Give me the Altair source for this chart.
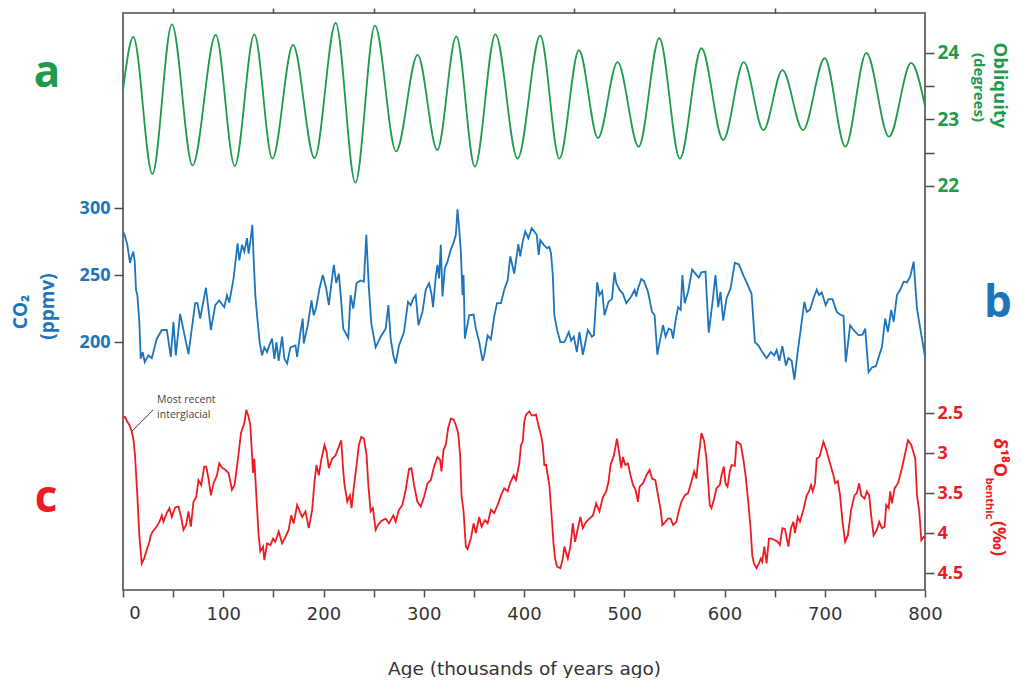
import altair as alt
import pandas as pd

# ---------------- data ----------------
OBL_AGE = [0, 10.3, 29.3, 48.8, 69.4, 92.5, 111.5, 131, 149, 169.6, 191, 212.2, 231.8,
           251.3, 272.4, 293.9, 313.5, 332.5, 351, 371.5, 393.6, 416.2, 435.3, 454.8,
           473.8, 493.3, 514.4, 535, 555.5, 577, 598.7, 619.2, 638.8, 657.8, 678.3, 700,
           720.5, 741.5, 764.1, 786.2, 800]
OBL_DEG = [23.44, 24.24, 22.18, 24.43, 22.31, 24.27, 22.30, 24.28, 22.41, 24.12, 22.42,
           24.45, 22.05, 24.41, 22.52, 23.97, 22.54, 24.25, 22.29, 24.28, 22.41, 24.26,
           22.41, 24.04, 22.72, 23.86, 22.59, 24.22, 22.41, 24.07, 22.69, 23.86, 22.84,
           23.74, 22.84, 23.92, 22.59, 24.00, 22.74, 23.85, 23.2]

CO2_AGE = [0, 2, 4.3, 7, 8.7, 10.3, 11.7, 13, 14.3, 16.3, 17.7, 19.7, 21.7, 25.3, 28.7,
           33.7, 38.7, 43.7, 47.7, 50.3, 52.7, 57, 65.3, 72, 74.3, 77, 82.7, 87.7, 92, 96,
           101, 103.7, 106, 110.3, 114.3, 116, 118.7, 121, 123.7, 125.3, 127, 129, 130.3,
           132, 133.7, 136.3, 138.7, 141, 143.7, 146, 148.7, 151, 153, 155.3, 158.7, 161,
           163.7, 167, 172, 173.7, 177, 179.3, 180.3, 184.3, 188, 190.3, 192.7, 196, 199.3,
           202.7, 205.3, 207.7, 210.3, 212.7, 215.3, 217.7, 219.7, 224.7, 227, 229.7, 233,
           237, 240.3, 242.7, 245.3, 247.7, 252, 257, 262, 264.7, 267, 269.7, 272, 275.3,
           280.3, 284.3, 287, 289.7, 292, 294.7, 298.7, 302, 305.3, 307.7, 309.3, 312,
           313.7, 315.3, 317, 318.7, 321, 323.7, 327, 329.7, 332, 333.7, 335.3, 337, 338.7,
           339.7, 341, 345.3, 349.7, 352, 355.3, 358.7, 360.3, 363.7, 367, 370.3, 373, 377,
           380.3, 383.7, 386.3, 390.3, 394.3, 396.3, 398.7, 401.3, 404.3, 407.7, 410.3,
           412.7, 414.7, 416.3, 419.7, 423, 425.3, 427, 428.7, 430.3, 433, 436.3, 440.3,
           444.7, 447, 449.7, 452.7, 455.3, 458.7, 463.7, 467.7, 469.7, 473, 475.3, 478,
           480.3, 484.3, 487.7, 490.3, 492, 495.3, 498.7, 502, 507, 510.3, 512, 513.7, 517,
           519.7, 523.7, 527.7, 530.3, 533, 535.3, 538.7, 541.3, 544.3, 547, 548.7, 551,
           553.7, 556.3, 558, 560.3, 563.7, 567.7, 571, 574.3, 577, 581, 584.3, 587.7, 591,
           593.7, 596, 598.7, 602, 606, 610.3, 614.3, 618.7, 622, 627, 630.3, 633.7, 637.7,
           642, 646.3, 649.7, 652, 654.7, 657.7, 661.3, 663.7, 667, 669.7, 673, 677, 679.7,
           682, 685.3, 688.7, 692, 694.3, 697, 701, 703.7, 707.7, 712, 715.3, 718.7, 721,
           725.3, 728.7, 733.7, 737.7, 740.3, 743.7, 747, 751, 754.3, 757, 760.3, 763,
           766.3, 768.7, 772, 775.3, 778.7, 782, 785.3, 788.7, 792, 795.3, 797, 800]
CO2_PPMV = [282.5, 279, 272.5, 259, 264, 267.5, 260, 239, 235, 215, 187.5, 192.5, 185, 190,
            188, 202.5, 209, 209, 189, 215, 190, 221, 191, 229, 229, 217.5, 240.5, 209,
            227.5, 231, 226, 235, 229.5, 247.5, 273.7, 261, 272.5, 267.5, 277.5, 266, 275,
            287.5, 262.5, 235, 220, 200, 190, 196, 192.5, 197.5, 202.5, 187.5, 200, 186, 204,
            187.5, 184, 196, 197.5, 189, 207.5, 217.5, 199, 212.5, 231, 220, 226, 240, 250,
            240, 227.5, 242.5, 257.5, 244, 251, 230, 210, 203, 235, 225, 244, 246, 245, 280,
            240, 213.7, 196, 204, 210, 227.5, 202.5, 190, 184, 197.5, 207.5, 230, 227.5,
            232.5, 235, 212.5, 222.5, 239, 244, 236, 226, 249, 257.5, 247.5, 272.5, 234, 255,
            260, 269, 274, 280, 299, 285, 267.5, 235, 250, 202.5, 220, 220.5, 210, 200, 186,
            190, 205, 202, 219, 229, 229, 239, 246, 264, 251, 273, 264, 275, 282.5, 277.5,
            285, 282.5, 280, 265, 276, 272.5, 270, 271, 266, 250, 220, 209, 200, 200, 207.5,
            201, 204, 192.5, 207.5, 190.5, 209, 204, 205, 244.5, 235, 238, 220, 230, 232,
            252, 244, 239, 236, 229, 234, 239, 234, 240, 247, 245.5, 237.5, 222.5, 220,
            190.5, 200, 212.5, 204, 210, 209, 202.5, 215, 226, 224, 250, 229, 237.5, 254,
            251, 248, 252, 252.5, 207, 227.5, 250, 226, 237.5, 216, 232.5, 240, 259, 258,
            250, 244.5, 236, 200, 197.5, 192.5, 188, 192.5, 190, 194, 186, 197, 182.5, 188,
            186, 172, 192.5, 215, 230, 222.5, 224, 232.5, 239, 235, 237, 227.5, 232, 232,
            222.5, 220.5, 219.5, 185, 212.5, 209, 205, 205.5, 210, 177.5, 181, 182, 190, 196,
            217.5, 207.5, 224, 215, 235, 239, 245, 244.5, 249, 260, 225, 210, 202.5, 189]

D18O_AGE = [0, 2, 4.3, 6.3, 8.7, 10.3, 12, 14.3, 16.3, 18.7, 21, 23.7, 26.3, 27.7, 29.7,
            33.7, 37, 38.7, 40.3, 43.7, 46.3, 48.7, 52, 55.3, 58, 60.3, 63, 65.3, 67.7,
            70.3, 73, 75.3, 78, 81, 83, 85.3, 87.7, 90.3, 93.7, 96, 98.7, 102, 105.3, 108.7,
            111.3, 114.3, 117.7, 121, 123, 125.3, 127, 128.7, 129.7, 131, 133, 135.3, 137,
            139.7, 141, 143.7, 147, 149.7, 152, 155.3, 158.7, 162, 165.3, 167.7, 170.3,
            173.7, 176.3, 178.7, 182, 185.3, 188.7, 191, 193, 195.3, 198, 201, 203, 205.3,
            208.7, 212, 215.3, 217.7, 219.7, 221, 223.7, 226.3, 228, 230.3, 233, 235.3,
            237.7, 240.3, 243, 244.7, 247, 249.3, 252, 254.3, 257.7, 262, 265.3, 269.7, 272,
            275.3, 278.7, 282, 285.3, 287.7, 290.3, 293.7, 297, 300.3, 303.7, 307, 310.3,
            313.7, 316.3, 317.7, 319.7, 322, 324.3, 327, 329.7, 332, 334.3, 336.3, 337.7,
            339.7, 342, 343.7, 347, 349.7, 352, 355.3, 357.7, 361, 363.7, 367, 370.3, 374.3,
            377, 380.3, 383.7, 386.3, 389.7, 392, 395.3, 397, 398.7, 400.3, 402, 405.3,
            407.7, 410.3, 412, 414.3, 417, 418.7, 420.3, 422, 423.7, 425.3, 427, 428, 429.3,
            431, 433, 436.3, 438.7, 440.3, 442, 443.7, 446.3, 448.7, 451, 453.7, 456.3,
            458.7, 462, 465.3, 468.7, 472, 475.3, 478.7, 482, 484.3, 486.3, 489.7, 492.7,
            494.7, 497, 498.7, 501, 503.7, 506.3, 508.7, 511.3, 513.7, 515.3, 518.7, 522,
            525.3, 527.7, 531, 533.7, 536.3, 538, 541, 543.7, 546.3, 548.7, 552, 554.3, 557,
            560.3, 563.7, 567, 569.7, 572, 573.7, 575.3, 577, 579.7, 582, 583.7, 585.3, 587,
            589.7, 592, 595.3, 597, 599.3, 601, 603, 605.3, 607, 610.3, 612, 613.7, 616.3,
            618.7, 621, 623.7, 626, 627.7, 629.3, 632, 634.3, 636.3, 637.7, 639.7, 642,
            644.3, 647, 650.3, 653, 655.3, 657.7, 660.3, 663.7, 666.3, 668.7, 670.3, 673,
            675.3, 678.7, 682, 684.3, 686.3, 688, 690.3, 692, 694.7, 698.7, 702, 705.3,
            708.7, 710.3, 713, 715.3, 717.7, 720.3, 723, 726.3, 729.7, 732, 734.3, 736.3,
            739.7, 742, 744.3, 746.3, 748.7, 752, 754.3, 757, 759.7, 761.3, 763.7, 765.3,
            767, 769.7, 773, 777, 780.3, 783, 786.3, 790.3, 792, 794.3, 796.3, 798.7, 800]
D18O_VAL = [2.56, 2.55, 2.61, 2.65, 2.73, 2.82, 3.03, 3.53, 4.03, 4.38, 4.32, 4.21, 4.11,
            4.03, 3.98, 3.92, 3.84, 3.78, 3.86, 3.75, 3.69, 3.80, 3.68, 3.67, 3.80, 3.96,
            3.90, 3.73, 3.92, 3.61, 3.55, 3.34, 3.40, 3.17, 3.17, 3.32, 3.53, 3.38, 3.28,
            3.13, 3.18, 3.21, 3.25, 3.46, 3.40, 3.11, 2.75, 2.63, 2.46, 2.55, 2.65, 3.03,
            3.25, 3.07, 3.53, 4.03, 4.23, 4.17, 4.34, 4.13, 4.15, 4.07, 4.11, 3.98, 4.13,
            4.05, 3.96, 3.78, 3.88, 3.65, 3.73, 3.80, 3.73, 3.94, 3.71, 3.36, 3.15, 3.28,
            3.07, 2.90, 2.98, 3.19, 3.07, 3.03, 2.92, 2.84, 3.23, 3.40, 3.61, 3.53, 3.69,
            3.42, 3.15, 2.90, 2.80, 2.82, 3.03, 3.40, 3.73, 3.69, 3.96, 3.90, 3.85, 3.82,
            3.88, 3.78, 3.86, 3.71, 3.65, 3.46, 3.20, 3.19, 3.40, 3.61, 3.67, 3.55, 3.38,
            3.34, 3.17, 3.05, 3.09, 3.23, 2.96, 2.90, 2.69, 2.57, 2.58, 2.65, 2.75, 3.03,
            3.53, 3.73, 4.17, 4.20, 4.07, 3.88, 4.00, 3.80, 3.92, 3.84, 3.88, 3.71, 3.75,
            3.63, 3.53, 3.44, 3.48, 3.37, 3.28, 3.34, 3.13, 2.90, 2.86, 2.61, 2.52, 2.48,
            2.53, 2.53, 2.52, 2.65, 2.78, 2.90, 3.15, 3.15, 3.28, 3.40, 3.69, 3.86, 4.11,
            4.32, 4.42, 4.44, 4.32, 4.17, 4.25, 4.32, 4.17, 3.88, 4.11, 3.94, 3.80, 3.94,
            3.86, 3.82, 3.78, 3.63, 3.73, 3.55, 3.48, 3.36, 3.15, 3.03, 2.82, 2.98, 3.19,
            3.05, 3.15, 3.13, 3.28, 3.40, 3.46, 3.61, 3.42, 3.38, 3.28, 3.21, 3.32, 3.34,
            3.53, 3.71, 3.90, 3.86, 3.82, 3.82, 3.90, 3.86, 3.73, 3.61, 3.53, 3.50, 3.36,
            3.23, 3.32, 3.09, 2.94, 2.75, 2.85, 3.07, 3.36, 3.65, 3.69, 3.57, 3.44, 3.40,
            3.28, 3.17, 3.38, 3.42, 3.23, 3.15, 3.16, 2.86, 2.87, 2.90, 3.07, 3.28, 3.61,
            3.94, 4.28, 4.38, 4.44, 4.38, 4.32, 4.36, 4.17, 4.38, 4.07, 4.07, 4.09, 4.11,
            4.15, 3.94, 3.95, 4.17, 3.94, 3.86, 4.00, 3.80, 3.86, 3.71, 3.53, 3.48, 3.40,
            3.48, 3.38, 3.07, 3.05, 2.86, 2.98, 3.13, 3.28, 3.38, 3.35, 3.53, 3.86, 4.11,
            4.03, 3.71, 3.53, 3.50, 3.38, 3.53, 3.57, 3.48, 3.53, 3.78, 4.03, 3.96, 3.86,
            3.94, 3.92, 3.65, 3.69, 3.48, 3.63, 3.44, 3.38, 3.19, 3.00, 2.84, 2.90, 3.07,
            3.53, 3.73, 4.09, 4.05, 4.05]

ANNOT_LINE_AGE = [8.7, 30.3]
ANNOT_LINE_VAL = [2.73, 2.46]
ANNOT_TEXT = ["Most recent", "interglacial"]
ANNOT_TEXT_AGE = [34, 34]
ANNOT_TEXT_VAL = [2.34, 2.52]

X_TICKS = list(range(0, 801, 50))
ZERO_TICK = [0]
TOP_TICKS = list(range(50, 800, 100))
OBL_TICKS = [22, 22.5, 23, 23.5, 24]
CO2_TICKS = [200, 250, 300]
D18O_TICKS = [2.5, 3, 3.5, 4, 4.5]

# ---------------- styling ----------------
W, H = 802, 577
GREEN = "#1e9b4c"
BLUE = "#1c75bc"
RED = "#ed1c24"
DARK = "#4d4d4d"
BF = "Open Sans"
AXF = "DejaVu Sans"

obl_df = pd.DataFrame({"age": OBL_AGE, "deg": OBL_DEG})
co2_df = pd.DataFrame({"age": CO2_AGE, "co2": CO2_PPMV})
d18_df = pd.DataFrame({"age": D18O_AGE, "d18o": D18O_VAL})
ann_line_df = pd.DataFrame({"age": [ANNOT_LINE_AGE[0]], "d18o": [ANNOT_LINE_VAL[0]],
                            "age2": [ANNOT_LINE_AGE[1]], "d18o2": [ANNOT_LINE_VAL[1]]})
ann_text_df = pd.DataFrame({"age": ANNOT_TEXT_AGE, "d18o": ANNOT_TEXT_VAL, "txt": ANNOT_TEXT})
zero_df = pd.DataFrame({"age": ZERO_TICK, "txt": [str(v) for v in ZERO_TICK]})

xscale = alt.Scale(domain=[0, 800], nice=False, zero=False)
d18scale = alt.Scale(domain=[-2.5, 4.7125], nice=False, zero=False, reverse=True)

obl = alt.Chart(obl_df).mark_line(color=GREEN, strokeWidth=1.8, interpolate="monotone").encode(
    x=alt.X("age:Q", scale=xscale,
            axis=alt.Axis(orient="top", values=TOP_TICKS, labels=False, tickSize=5, title=None)),
    y=alt.Y("deg:Q", scale=alt.Scale(domain=[15.925, 24.6], nice=False, zero=False),
            axis=alt.Axis(orient="right", values=OBL_TICKS, title=None,
                          labelExpr="datum.value % 1 == 0 ? datum.label : ''",
                          tickSize=9, labelPadding=3, labelFont=BF, labelFontWeight="bold",
                          labelFontSize=19, labelColor=GREEN)),
)

co2 = alt.Chart(co2_df).mark_line(color=BLUE, strokeWidth=1.8).encode(
    x=alt.X("age:Q", scale=xscale, axis=None),
    y=alt.Y("co2:Q", scale=alt.Scale(domain=[15, 445.5], nice=False, zero=False),
            axis=alt.Axis(orient="left", values=CO2_TICKS, title=None, tickSize=9,
                          labelPadding=4, labelFont=BF, labelFontWeight="bold",
                          labelFontSize=18, labelColor=BLUE)),
)

X_AXIS = alt.Axis(orient="bottom", values=X_TICKS, labelFlush=False,
                  labelExpr="datum.value > 0 && datum.value % 100 == 0 ? datum.label : ''",
                  tickSize=7, labelPadding=8, labelFont=AXF,
                  labelFontSize=18, labelColor="#333333",
                  title="Age (thousands of years ago)", titleFont=AXF,
                  titleFontSize=18.5, titleFontWeight="normal", titleColor="#333333",
                  titleY=84, titleBaseline="alphabetic")
Y18_AXIS = alt.Axis(orient="right", values=D18O_TICKS, title=None,
                    labelExpr="'' + datum.value",
                    tickSize=9, labelPadding=3, labelFont=BF, labelFontWeight="bold",
                    labelFontSize=18, labelColor=RED)

d18_line = alt.Chart(d18_df).mark_line(color=RED, strokeWidth=1.8).encode(
    x=alt.X("age:Q", scale=xscale, axis=X_AXIS),
    y=alt.Y("d18o:Q", scale=d18scale, axis=Y18_AXIS),
)

ann_rule = alt.Chart(ann_line_df).mark_rule(color="#444444", strokeWidth=1).encode(
    x=alt.X("age:Q", scale=xscale, axis=X_AXIS), x2="age2:Q",
    y=alt.Y("d18o:Q", scale=d18scale, axis=Y18_AXIS), y2="d18o2:Q",
)
ann_text = alt.Chart(ann_text_df).mark_text(align="left", baseline="middle", font=BF,
                                            fontSize=10.5, color="#444444").encode(
    x=alt.X("age:Q", scale=xscale, axis=X_AXIS),
    y=alt.Y("d18o:Q", scale=d18scale, axis=Y18_AXIS),
    text="txt:N",
)
# the "0" tick label sits right of its tick in the reference
zero_label = alt.Chart(zero_df).mark_text(align="center", baseline="top", dx=12, font=AXF,
                                          fontSize=18, color="#333333").encode(
    x=alt.X("age:Q", scale=xscale, axis=X_AXIS),
    y=alt.value(H + 15),
    text="txt:N",
)

d18 = alt.layer(d18_line, ann_rule, ann_text, zero_label)

one = alt.Data(values=[{}])


def label(txt, x, y, color, size, angle=0, baseline="middle", weight="bold"):
    return alt.Chart(one).mark_text(text=txt, font=BF, fontSize=size, fontWeight=weight,
                                    color=color, angle=angle, align="center",
                                    baseline=baseline).encode(x=alt.value(x), y=alt.value(y))


texts = [
    label("a", -76, 74, GREEN, 44, baseline="alphabetic"),
    label("c", -77, 499, RED, 44, baseline="alphabetic"),
    label("b", 875, 304, BLUE, 44, baseline="alphabetic"),
    label("CO\u2082", -102, 299, BLUE, 19, angle=270),
    label("(ppmv)", -75.5, 293.5, BLUE, 19, angle=270),
    label("Obliquity", 876.5, 72.5, GREEN, 18.5, angle=90),
    label("(degrees)", 856, 74.5, GREEN, 15, angle=90),
    label("\u03b4\u00b9\u2078O", 876, 444.5, RED, 18, angle=90),
    label("benthic", 865.5, 485.5, RED, 11, angle=90),
    label("(\u2030)", 874.5, 525.5, RED, 18, angle=90),
]

chart = alt.layer(obl, co2, d18, *texts).resolve_scale(
    x="independent", y="independent"
).resolve_axis(
    x="independent", y="independent"
).properties(
    width=W, height=H, padding={"left": 4, "top": -1, "right": 0, "bottom": 0}
).configure_view(
    stroke=DARK, strokeWidth=1.6
).configure_axis(
    grid=False, domain=False, tickColor=DARK, tickWidth=1.5
)

chart.save("out.html", embed_options={"renderer": "svg", "actions": False})
